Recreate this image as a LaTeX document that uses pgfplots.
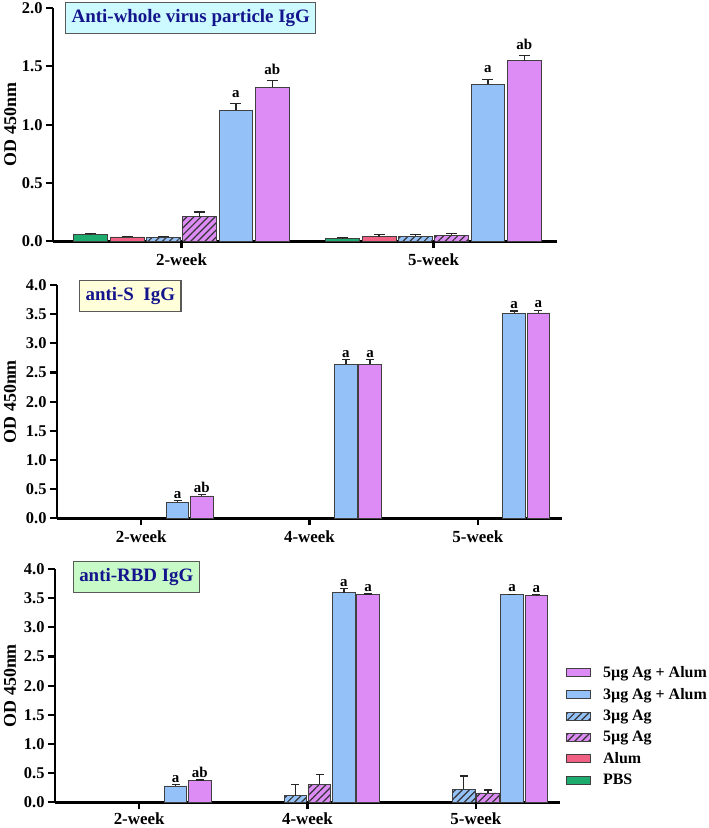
\documentclass[border=0pt]{standalone}
\usepackage{fontspec}
\setmainfont{Liberation Serif}
\usepackage{pgfplots}
\pgfplotsset{compat=1.18}
\usetikzlibrary{patterns.meta}

\definecolor{cpbs}{RGB}{30,172,110}
\definecolor{calum}{RGB}{240,96,130}
\definecolor{cblue}{RGB}{148,194,248}
\definecolor{cviol}{RGB}{222,140,245}
\definecolor{navytxt}{RGB}{20,20,140}
\definecolor{boxcyan}{RGB}{204,250,255}
\definecolor{boxyel}{RGB}{255,255,218}
\definecolor{boxgrn}{RGB}{200,250,200}

\tikzset{
  hatch/.style={postaction={pattern={Lines[angle=45,distance=5bp,line width=1.2bp]}, pattern color=black!80}},
  lab/.style={font=\fontsize{15}{15}\selectfont\bfseries, anchor=south, inner sep=2bp},
  titlebox/.style={draw=black!65, line width=1.2bp, text=navytxt, font=\fontsize{19}{19}\selectfont\bfseries, anchor=north west, inner xsep=6bp, minimum height=31bp},
  tk/.style={draw=black, line width=2.2bp},
}
\pgfplotsset{
  panel/.style={
    scale only axis, width=505bp, height=233.3bp,
    axis lines=left,
    axis line style={line width=2.5bp,-,black},
    every tick/.append style={draw=black, line width=2.2bp},
    xtick pos=bottom, ytick pos=left,
    major tick length=7bp, tick align=outside,
    minor tick num=0,
    ymin=0, clip=false,
    yticklabel style={font=\fontsize{16.5}{16.5}\selectfont\bfseries, /pgf/number format/.cd, fixed, fixed zerofill, precision=1, assume math mode=true},
    xticklabel style={font=\fontsize{17}{17}\selectfont\bfseries},
    ylabel={OD 450nm},
    ylabel style={font=\fontsize{18}{18}\selectfont\bfseries, anchor=center},
    bar width=0.134,
    error bars/y dir=plus, error bars/y explicit,
    error bars/error bar style={line width=1.3bp, black!85},
  },
  gbar/.style={ybar, bar shift=0pt, draw=black!75, line width=0.9bp},
  legbox/.style={legend image code/.code={\draw[##1] (0bp,-4bp) rectangle (24bp,4bp);}},
}

\begin{document}
\begin{tikzpicture}
\path[use as bounding box] (0,0) rectangle (709bp,-828bp);

% ---------------- Top panel ----------------
\begin{axis}[panel, at={(53bp,-8bp)}, anchor=north west, width=504bp,
  xmin=-0.51, xmax=1.49, ymax=2,
  ytick={0,0.5,1,1.5,2},
  xtick={0,1}, xticklabels={2-week,5-week},
  xticklabel style={yshift=-2bp},
  ylabel style={at={(axis description cs:-0.085,0.5)}},
  error bars/error mark options={rotate=90, mark size=5.5bp, line width=1.3bp, black!85},
]
\addplot[gbar, fill=cpbs] coordinates {(-0.36,0.057) +- (0,0.008) (0.64,0.028) +- (0,0.004)};
\addplot[gbar, fill=calum] coordinates {(-0.216,0.037) +- (0,0.006) (0.784,0.040) +- (0,0.017)};
\addplot[gbar, fill=cblue, hatch] coordinates {(-0.072,0.035) +- (0,0.008) (0.928,0.043) +- (0,0.017)};
\addplot[gbar, fill=cviol, hatch] coordinates {(0.072,0.210) +- (0,0.040) (1.072,0.051) +- (0,0.017)};
\addplot[gbar, fill=cblue] coordinates {(0.216,1.123) +- (0,0.057) (1.216,1.345) +- (0,0.045)};
\addplot[gbar, fill=cviol] coordinates {(0.36,1.320) +- (0,0.058) (1.36,1.548) +- (0,0.042)};
\pgfplotsinvokeforeach{0,0.5,1,1.5,2}{\draw[tk] (axis cs:-0.51,#1) -- ++(-7bp,0pt);}
\pgfplotsinvokeforeach{0,1}{\draw[tk] (axis cs:#1,0) -- ++(0pt,-7bp);}
\node[lab, yshift=4bp] at (axis cs:0.216,1.18) {a};
\node[lab, yshift=4bp] at (axis cs:0.36,1.378) {ab};
\node[lab, yshift=4bp] at (axis cs:1.216,1.39) {a};
\node[lab, yshift=4bp] at (axis cs:1.36,1.59) {ab};
\node[titlebox, fill=boxcyan, minimum width=250bp] at (axis description cs:0.024,1.026) {Anti-whole virus particle IgG};
\end{axis}

% ---------------- Middle panel ----------------
\begin{axis}[panel, at={(57bp,-285bp)}, anchor=north west,
  xmin=-0.5, xmax=2.5, ymax=4,
  ytick={0,0.5,1,1.5,2,2.5,3,3.5,4},
  xtick={0,1,2}, xticklabels={2-week,4-week,5-week},
  xticklabel style={yshift=-2bp},
  ylabel style={at={(axis description cs:-0.093,0.5)}},
  error bars/error mark options={rotate=90, mark size=4bp, line width=1.3bp, black!85},
]
\addplot[gbar, fill=cblue] coordinates {(0.216,0.274) +- (0,0.026) (1.216,2.64) +- (0,0.08) (2.216,3.515) +- (0,0.04)};
\addplot[gbar, fill=cviol] coordinates {(0.36,0.383) +- (0,0.022) (1.36,2.64) +- (0,0.08) (2.36,3.52) +- (0,0.047)};
\pgfplotsinvokeforeach{0,0.5,1,1.5,2,2.5,3,3.5,4}{\draw[tk] (axis cs:-0.5,#1) -- ++(-7bp,0pt);}
\pgfplotsinvokeforeach{0,1,2}{\draw[tk] (axis cs:#1,0) -- ++(0pt,-7bp);}
\node[lab] at (axis cs:0.216,0.30) {a};
\node[lab] at (axis cs:0.36,0.405) {ab};
\node[lab] at (axis cs:1.216,2.72) {a};
\node[lab] at (axis cs:1.36,2.72) {a};
\node[lab] at (axis cs:2.216,3.555) {a};
\node[lab] at (axis cs:2.36,3.567) {a};
\node[titlebox, fill=boxyel, minimum width=101bp] at (axis description cs:0.0436,1.021) {anti-S\ \ IgG};
\end{axis}

% ---------------- Bottom panel ----------------
\begin{axis}[panel, at={(55bp,-569bp)}, anchor=north west,
  xmin=-0.5, xmax=2.5, ymax=4,
  ytick={0,0.5,1,1.5,2,2.5,3,3.5,4},
  xtick={0,1,2}, xticklabels={2-week,4-week,5-week},
  ylabel style={at={(axis description cs:-0.089,0.5)}},
  error bars/error mark options={rotate=90, mark size=4bp, line width=1.3bp, black!85},
  legend style={at={(axis description cs:1.006,0.60)}, anchor=north west, draw=none, fill=none,
    font=\fontsize{16}{16}\selectfont\bfseries, row sep=5.2bp, nodes={inner sep=2bp},
    /tikz/every odd column/.append style={column sep=10bp}},
  legend cell align=left,
]
\addplot[gbar, fill=cblue, hatch, forget plot] coordinates {(0.928,0.11) +- (0,0.19) (1.928,0.22) +- (0,0.23)};
\addplot[gbar, fill=cviol, hatch, forget plot] coordinates {(1.072,0.31) +- (0,0.17) (2.072,0.16) +- (0,0.05)};
\addplot[gbar, fill=cblue, forget plot] coordinates {(0.216,0.28) +- (0,0.02) (1.216,3.59) +- (0,0.07) (2.216,3.56) +- (0,0.006)};
\addplot[gbar, fill=cviol, forget plot] coordinates {(0.36,0.37) +- (0,0.015) (1.36,3.56) +- (0,0.01) (2.36,3.55) +- (0,0.008)};
\pgfplotsinvokeforeach{0,0.5,1,1.5,2,2.5,3,3.5,4}{\draw[tk] (axis cs:-0.5,#1) -- ++(-7bp,0pt);}
\pgfplotsinvokeforeach{0,1,2}{\draw[tk] (axis cs:#1,0) -- ++(0pt,-7bp);}
\node[lab] at (axis cs:0.216,0.30) {a};
\node[lab] at (axis cs:0.36,0.385) {ab};
\node[lab] at (axis cs:1.216,3.66) {a};
\node[lab] at (axis cs:1.36,3.57) {a};
\node[lab] at (axis cs:2.216,3.566) {a};
\node[lab] at (axis cs:2.36,3.558) {a};
\node[titlebox, fill=boxgrn, minimum width=125bp] at (axis description cs:0.035,1.034) {anti-RBD IgG};
\addlegendimage{fill=cviol, draw=black!75, line width=0.9bp, legbox}
\addlegendentry{5µg Ag + Alum}
\addlegendimage{fill=cblue, draw=black!75, line width=0.9bp, legbox}
\addlegendentry{3µg Ag + Alum}
\addlegendimage{fill=cblue, draw=black!75, line width=0.9bp, hatch, legbox}
\addlegendentry{3µg Ag}
\addlegendimage{fill=cviol, draw=black!75, line width=0.9bp, hatch, legbox}
\addlegendentry{5µg Ag}
\addlegendimage{fill=calum, draw=black!75, line width=0.9bp, legbox}
\addlegendentry{Alum}
\addlegendimage{fill=cpbs, draw=black!75, line width=0.9bp, legbox}
\addlegendentry{PBS}
\end{axis}
\end{tikzpicture}
\end{document}
